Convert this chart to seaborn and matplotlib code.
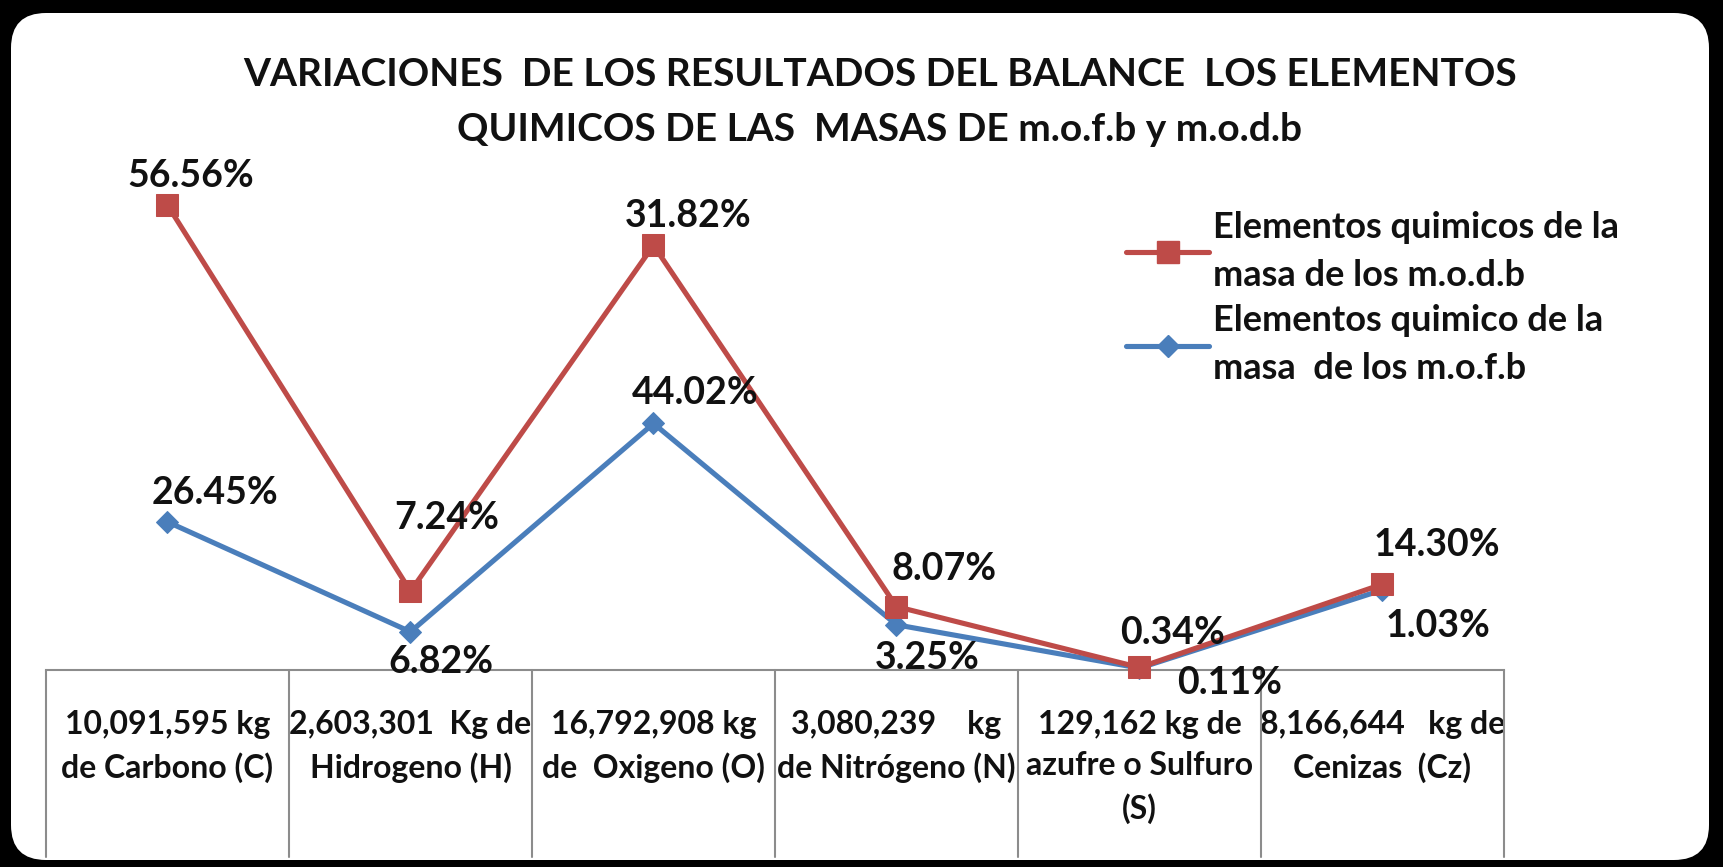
import numpy as np
import pandas as pd
import matplotlib
matplotlib.use("Agg")
import matplotlib.pyplot as plt
import matplotlib.transforms as mtransforms
from matplotlib.patches import FancyBboxPatch
from matplotlib.lines import Line2D
import seaborn as sns

# ---------------- data ----------------
categories = [
    "10,091,595 kg\nde Carbono (C)",
    "2,603,301  Kg de\nHidrogeno (H)",
    "16,792,908 kg\nde  Oxigeno (O)",
    "3,080,239    kg\nde Nitrógeno (N)",
    "129,162 kg de\nazufre o Sulfuro\n(S)",
    "8,166,644   kg de\nCenizas  (Cz)",
]
mofb = [26.45, 6.82, 44.02, 8.07, 0.34, 14.30]   # blue series (bottom)
modb = [56.56, 7.24, 31.82, 3.25, 0.11, 1.03]    # red series (stacked on top)
series_names = [
    "Elementos quimicos de la\nmasa de los m.o.d.b",
    "Elementos quimico de la\nmasa  de los m.o.f.b",
]
title = ("VARIACIONES  DE LOS RESULTADOS DEL BALANCE  LOS ELEMENTOS\n"
         "QUIMICOS DE LAS  MASAS DE m.o.f.b y m.o.d.b")

# ---------------- style ----------------
sns.set_theme(style="white")
plt.rcParams["font.family"] = ["Lato", "DejaVu Sans"]
RED = "#BE4B48"
BLUE = "#4A7EBB"
TXT = "#111111"
GRID = "#8c8c8c"

W, H = 1723, 867
fig = plt.figure(figsize=(W / 100, H / 100), dpi=100, facecolor="black")

panel = FancyBboxPatch((0.11, 0.07), 16.98, 8.47,
                       boxstyle="round,pad=0,rounding_size=0.35",
                       transform=fig.dpi_scale_trans,
                       facecolor="white", edgecolor="none", zorder=0)
fig.add_artist(panel)

ax_l, ax_r, ax_b, ax_t = 46, 1504, 670, 166
ax = fig.add_axes([ax_l / W, 1 - ax_b / H, (ax_r - ax_l) / W, (ax_b - ax_t) / H])
ax.set_facecolor("none")

x = np.arange(len(categories))
blue_y = np.array(mofb)
red_y = blue_y + np.array(modb)   # stacked line

df = pd.DataFrame({"x": np.concatenate([x, x]),
                   "y": np.concatenate([blue_y, red_y]),
                   "serie": ["mofb"] * len(x) + ["modb"] * len(x)})

sns.lineplot(data=df[df.serie == "mofb"], x="x", y="y", ax=ax, color=BLUE,
             marker="D", markersize=11, markeredgecolor=BLUE, linewidth=3.7,
             clip_on=False, legend=False, zorder=3)
sns.lineplot(data=df[df.serie == "modb"], x="x", y="y", ax=ax, color=RED,
             marker="s", markersize=16, markeredgecolor=RED, linewidth=3.7,
             clip_on=False, legend=False, zorder=4)

ax.set_xlim(-0.5, len(categories) - 0.5)
ax.set_ylim(0, 90)
ax.set_xlabel("")
ax.set_ylabel("")
ax.set_yticks([])
for s in ["top", "left", "right"]:
    ax.spines[s].set_visible(False)
ax.spines["bottom"].set_color(GRID)
ax.spines["bottom"].set_linewidth(1.5)

ax.set_xticks(x)
ax.set_xticklabels(categories, fontsize=23, fontweight="bold", color=TXT,
                   linespacing=1.5)
ax.tick_params(axis="x", length=0, pad=29)

# table-like vertical lines
trans = mtransforms.blended_transform_factory(ax.transData, ax.transAxes)
for b in np.arange(-0.5, len(categories), 1.0):
    ax.plot([b, b], [0, -(857 - 670) / (670 - 166)], transform=trans,
            color=GRID, linewidth=1.5, clip_on=False, zorder=1)

# data labels
red_off = [(17, 21), (26, 53), (25, 21), (22, -37), (65, -11), (40, -30)]
blue_off = [(34, 21), (22, -22), (30, 22), (34, 40), (24, 25), (39, 32)]
for i in range(len(x)):
    ax.annotate(f"{modb[i]:.2f}%", xy=(x[i], red_y[i]), xytext=red_off[i],
                textcoords="offset points", ha="center", va="center",
                fontsize=27, fontweight="bold", color=TXT, zorder=6,
                annotation_clip=False)
    ax.annotate(f"{mofb[i]:.2f}%", xy=(x[i], blue_y[i]), xytext=blue_off[i],
                textcoords="offset points", ha="center", va="center",
                fontsize=27, fontweight="bold", color=TXT, zorder=6,
                annotation_clip=False)

# legend
handles = [
    Line2D([], [], color=RED, marker="s", markersize=16, linewidth=3.7),
    Line2D([], [], color=BLUE, marker="D", markersize=11, linewidth=3.7),
]
leg = fig.legend(handles, series_names, loc="upper left",
                 bbox_to_anchor=(1126 / W, 1 - 211 / H), frameon=False,
                 handlelength=2.3, handletextpad=0.1, labelspacing=0.35,
                 borderpad=0, borderaxespad=0,
                 prop={"size": 26, "weight": "bold"})
for t in leg.get_texts():
    t.set_color(TXT)
    t.set_linespacing(1.55)

# title
fig.text(880 / W, 1 - 102 / H, title, ha="center", va="center",
         fontsize=28, fontweight="bold", color=TXT, linespacing=1.7)

fig.savefig("out.png", dpi=100, facecolor="black")
